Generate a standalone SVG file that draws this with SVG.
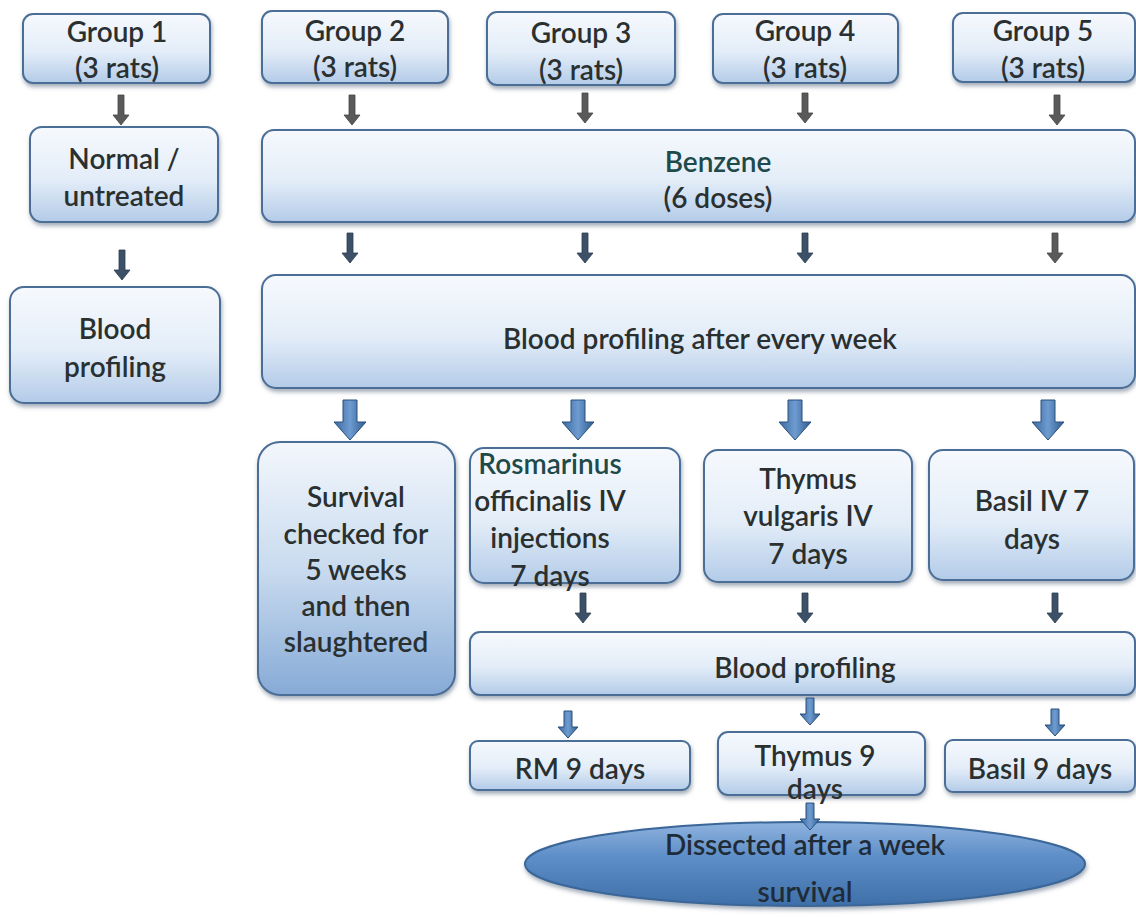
<svg xmlns="http://www.w3.org/2000/svg" xmlns:xlink="http://www.w3.org/1999/xlink" width="1136" height="917" viewBox="0 0 1136 917">
<defs>
<linearGradient id="gBox" x1="0" y1="0" x2="0" y2="1">
<stop offset="0" stop-color="#f6f9fd"/><stop offset="0.55" stop-color="#e3edf8"/><stop offset="1" stop-color="#b3cbe8"/>
</linearGradient>
<linearGradient id="gDark" x1="0" y1="0" x2="0" y2="1">
<stop offset="0" stop-color="#f3f7fc"/><stop offset="0.5" stop-color="#c9dbef"/><stop offset="1" stop-color="#86aad6"/>
</linearGradient>
<linearGradient id="gEll" x1="0" y1="0" x2="0" y2="1">
<stop offset="0" stop-color="#8fb3df"/><stop offset="0.4" stop-color="#5f8fc8"/><stop offset="1" stop-color="#3f6fa8"/>
</linearGradient>
<linearGradient id="gArr" x1="0" y1="0" x2="1" y2="0">
<stop offset="0" stop-color="#3a6aa0"/><stop offset="0.5" stop-color="#6e9bd0"/><stop offset="1" stop-color="#2f5b8e"/>
</linearGradient>
<filter id="sh" x="-10%" y="-10%" width="120%" height="130%">
<feDropShadow dx="1" dy="3" stdDeviation="2" flood-color="#5a6a80" flood-opacity="0.55"/>
</filter>
<path id="aThin" d="M-3,0 H3 V20 H8 L0,30 L-8,20 H-3 Z"/>
<path id="aMid" d="M-4,0 H4 V16 H10 L0,27 L-10,16 H-4 Z"/>
<path id="aThick" d="M-7,0 H7 V22 H16 L0,40 L-16,22 H-7 Z"/>
</defs>
<style>
.box{fill:url(#gBox);stroke:#4b6e96;stroke-width:2;filter:url(#sh)}
.boxd{fill:url(#gDark);stroke:#4b6e96;stroke-width:2;filter:url(#sh)}
.t{font-family:Lato,"Open Sans","Liberation Sans",sans-serif;font-size:28px;font-weight:600;fill:#2a3030;text-anchor:middle}
.tg{fill:#1e4a4a}
.gray{fill:#5a5a5a;stroke:#444;stroke-width:0.8}
.blue{fill:url(#gArr);stroke:#2a4f7a;stroke-width:1}
.dk{fill:#3c5068;stroke:#2b3d52;stroke-width:0.8}
</style>
<rect width="1136" height="917" fill="#ffffff"/>

<g id="group1"><rect class="box" x="23" y="14" width="187" height="69" rx="10"/><text class="t" x="117" y="42">Group 1</text><text class="t" x="117" y="78">(3 rats)</text></g>
<g id="group2"><rect class="box" x="262" y="11" width="186" height="72" rx="10"/><text class="t" x="355" y="41">Group 2</text><text class="t" x="355" y="77">(3 rats)</text></g>
<g id="group3"><rect class="box" x="487" y="12" width="188" height="73" rx="10"/><text class="t" x="581" y="43">Group 3</text><text class="t" x="581" y="80">(3 rats)</text></g>
<g id="group4"><rect class="box" x="713" y="14" width="185" height="69" rx="10"/><text class="t" x="805" y="41">Group 4</text><text class="t" x="805" y="78">(3 rats)</text></g>
<g id="group5"><rect class="box" x="953" y="13" width="182" height="69" rx="10"/><text class="t" x="1043" y="41">Group 5</text><text class="t" x="1043" y="78">(3 rats)</text></g>

<g id="normal"><rect class="box" x="30" y="127" width="188" height="95" rx="12"/><text class="t" x="124" y="169">Normal /</text><text class="t" x="124" y="206">untreated</text></g>
<g id="benzene"><rect class="box" x="262" y="130" width="873" height="92" rx="12"/><text class="t tg" x="718" y="172">Benzene</text><text class="t" x="718" y="208">(6 doses)</text></g>

<g id="blood1"><rect class="box" x="10" y="287" width="210" height="116" rx="14"/><text class="t" x="115" y="339">Blood</text><text class="t" x="115" y="377">profiling</text></g>
<g id="bloodweek"><rect class="box" x="262" y="275" width="873" height="113" rx="14"/><text class="t" x="700" y="349">Blood profiling after every week</text></g>

<g id="survival"><rect class="boxd" x="258" y="442" width="197" height="253" rx="22"/>
<text class="t" x="356" y="507">Survival</text><text class="t" x="356" y="544">checked for</text><text class="t" x="356" y="580">5 weeks</text><text class="t" x="356" y="616">and then</text><text class="t" x="356" y="652">slaughtered</text></g>

<g id="rosmarinus"><rect class="box" x="470" y="448" width="210" height="135" rx="14"/>
<text class="t tg" x="550" y="474">Rosmarinus</text><text class="t" x="550" y="511">officinalis IV</text><text class="t" x="550" y="548">injections</text><text class="t" x="550" y="586">7 days</text></g>
<g id="thymus7"><rect class="box" x="704" y="450" width="208" height="132" rx="14"/>
<text class="t" x="808" y="489">Thymus</text><text class="t" x="808" y="526">vulgaris IV</text><text class="t" x="808" y="564">7 days</text></g>
<g id="basil7"><rect class="box" x="929" y="450" width="205" height="130" rx="14"/>
<text class="t" x="1032" y="511">Basil IV 7</text><text class="t" x="1032" y="549">days</text></g>

<g id="blood2"><rect class="box" x="470" y="632" width="665" height="63" rx="10"/><text class="t" x="805" y="678">Blood profiling</text></g>

<g id="rm9"><rect class="box" x="470" y="741" width="220" height="49" rx="8"/><text class="t" x="580" y="779">RM 9 days</text></g>
<g id="thymus9"><rect class="box" x="718" y="732" width="207" height="63" rx="10"/><text class="t" x="815" y="766">Thymus 9</text><text class="t" x="815" y="799">days</text></g>
<g id="basil9"><rect class="box" x="945" y="740" width="190" height="52" rx="8"/><text class="t" x="1040" y="779">Basil 9 days</text></g>

<g id="dissected"><ellipse cx="805" cy="864" rx="280" ry="42" fill="url(#gEll)" stroke="#3a6698" stroke-width="2" filter="url(#sh)"/>
<text class="t" x="805" y="855" style="fill:#1f2c38">Dissected after a week</text><text class="t" x="805" y="902" style="fill:#1f2c38">survival</text></g>

<g id="connectors">
<use href="#aThin" class="gray" x="121" y="95"/>
<use href="#aThin" class="gray" x="352" y="95"/>
<use href="#aThin" class="gray" x="585" y="93"/>
<use href="#aThin" class="gray" x="805" y="93"/>
<use href="#aThin" class="gray" x="1057" y="95"/>

<use href="#aThin" class="dk" x="122" y="250"/>
<use href="#aThin" class="dk" x="350" y="233"/>
<use href="#aThin" class="dk" x="585" y="233"/>
<use href="#aThin" class="dk" x="805" y="233"/>
<use href="#aThin" class="gray" x="1055" y="233"/>

<use href="#aThick" class="blue" x="350" y="400"/>
<use href="#aThick" class="blue" x="578" y="400"/>
<use href="#aThick" class="blue" x="795" y="400"/>
<use href="#aThick" class="blue" x="1048" y="400"/>

<use href="#aThin" class="dk" x="583" y="593"/>
<use href="#aThin" class="dk" x="805" y="593"/>
<use href="#aThin" class="dk" x="1055" y="593"/>

<use href="#aMid" class="blue" x="568" y="711"/>
<use href="#aMid" class="blue" x="810" y="698"/>
<use href="#aMid" class="blue" x="1055" y="709"/>
<use href="#aMid" class="blue" x="810" y="803"/>
</g>
</svg>
